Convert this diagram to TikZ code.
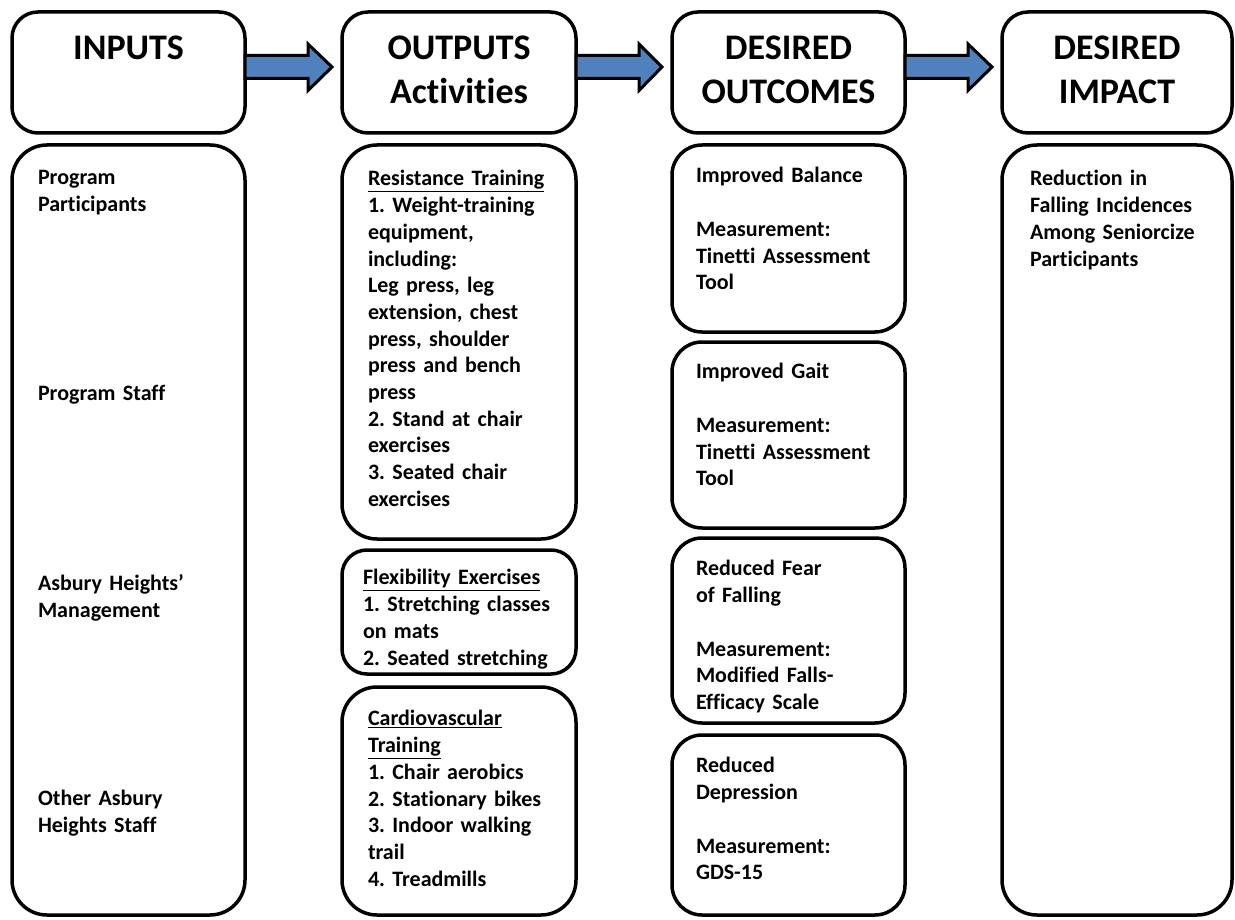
\documentclass[tikz,border=0pt]{standalone}
\usepackage{fontspec}
\setmainfont{Carlito}[Ligatures=NoCommon]
\usetikzlibrary{calc}
\frenchspacing
\definecolor{arrowblue}{RGB}{79,129,189}
\newcommand\lmbody{\fontsize{22}{26.7}\selectfont\bfseries\frenchspacing}
\newcommand\lmhead{\fontsize{36}{43.9}\selectfont\bfseries}
\tikzset{
  hbox/.style={draw, line width=3.5pt, rounded corners=26pt, inner sep=0pt, outer sep=0pt, align=center, font=\lmhead},
  bbox/.style={draw, line width=3.5pt, rounded corners=#1, inner sep=0pt, outer sep=0pt},
  txt/.style={anchor=north west, inner sep=0pt, outer sep=0pt, text width=230pt, align=left, font=\lmbody},
  barrow/.style={draw=black, line width=3pt, fill=arrowblue, line join=miter},
}
\begin{document}
\begin{tikzpicture}[x=1pt,y=-1pt]
\useasboundingbox (0,0) rectangle (1235,920);
% header boxes
\node[hbox, minimum width=233pt, minimum height=121pt] (h1) at (128.5,72.5) {\strut INPUTS\\\strut};
\node[hbox, minimum width=234pt, minimum height=121pt] (h2) at (459,72.5) {\strut OUTPUTS\\\strut Activities};
\node[hbox, minimum width=233pt, minimum height=121pt] (h3) at (788.5,72.5) {\strut DESIRED\\\strut OUTCOMES};
\node[hbox, minimum width=230pt, minimum height=121pt] (h4) at (1117,72.5) {\strut DESIRED\\\strut IMPACT};
% body boxes
\node[bbox=35pt, minimum width=233pt, minimum height=770pt] (inp) at (128.5,530) {};
\node[bbox=35pt, minimum width=234pt, minimum height=394pt] (res) at (459,342) {};
\node[bbox=25pt, minimum width=234pt, minimum height=124pt] (flex) at (459,612) {};
\node[bbox=35pt, minimum width=234pt, minimum height=228pt] (card) at (459,801) {};
\node[bbox=30pt, minimum width=233pt, minimum height=187pt] (bal) at (788.5,238.5) {};
\node[bbox=30pt, minimum width=233pt, minimum height=186pt] (gait) at (788.5,435) {};
\node[bbox=30pt, minimum width=233pt, minimum height=185pt] (fear) at (788.5,630.5) {};
\node[bbox=30pt, minimum width=233pt, minimum height=180pt] (depr) at (788.5,825) {};
\node[bbox=35pt, minimum width=230pt, minimum height=770pt] (imp) at (1117,530) {};
% arrows
\foreach \a/\b in {h1/h2,h2/h3,h3/h4}{
  \draw[barrow] ($(\a.east)+(0,-17)$) -- ($(\a.east)+(63,-17)$) -- ($(\a.east)+(63,-28.5)$)
     -- ($(\b.west)+(-10,-5.5)$) -- ($(\a.east)+(63,18)$) -- ($(\a.east)+(63,6)$)
     -- ($(\a.east)+(0,6)$) -- cycle;
}
% inputs texts
\node[txt] (t1) at (38,166.3) {\strut Program\\Participants};
\node[txt] (t2) at (38,382.3) {\strut Program Staff};
\node[txt] (t3) at (38,572.3) {\strut Asbury Heights'\\Management};
\node[txt] (t4) at (38,787.3) {\strut Other Asbury\\Heights Staff};
% outputs texts
\node[txt] (t5) at (368,167.3) {\strut\underline{Resistance Training}\\1. Weight-training\\equipment,\\including:\\Leg press, leg\\extension, chest\\press, shoulder\\press and bench\\press\\2. Stand at chair\\exercises\\3. Seated chair\\exercises};
\node[txt] (t6) at (363,566.3) {\strut\underline{Flexibility Exercises}\\1. Stretching classes\\on mats\\2. Seated stretching};
\node[txt] (t7) at (368,707.3) {\strut\underline{Cardiovascular}\\\underline{Training}\\1. Chair aerobics\\2. Stationary bikes\\3. Indoor walking\\trail\\4. Treadmills};
% outcomes texts
\node[txt] (t8) at (696,164.3) {\strut Improved Balance\\\mbox{}\\Measurement:\\Tinetti Assessment\\Tool};
\node[txt] (t9) at (696,360.3) {\strut Improved Gait\\\mbox{}\\Measurement:\\Tinetti Assessment\\Tool};
\node[txt] (t10) at (696,557.3) {\strut Reduced Fear\\of Falling\\\mbox{}\\Measurement:\\Modified Falls-\\Efficacy Scale};
\node[txt] (t11) at (696,754.3) {\strut Reduced\\Depression\\\mbox{}\\Measurement:\\GDS-15};
% impact text
\node[txt] (t12) at (1030,167.3) {\strut Reduction in\\Falling Incidences\\Among Seniorcize\\Participants};
\end{tikzpicture}
\end{document}
